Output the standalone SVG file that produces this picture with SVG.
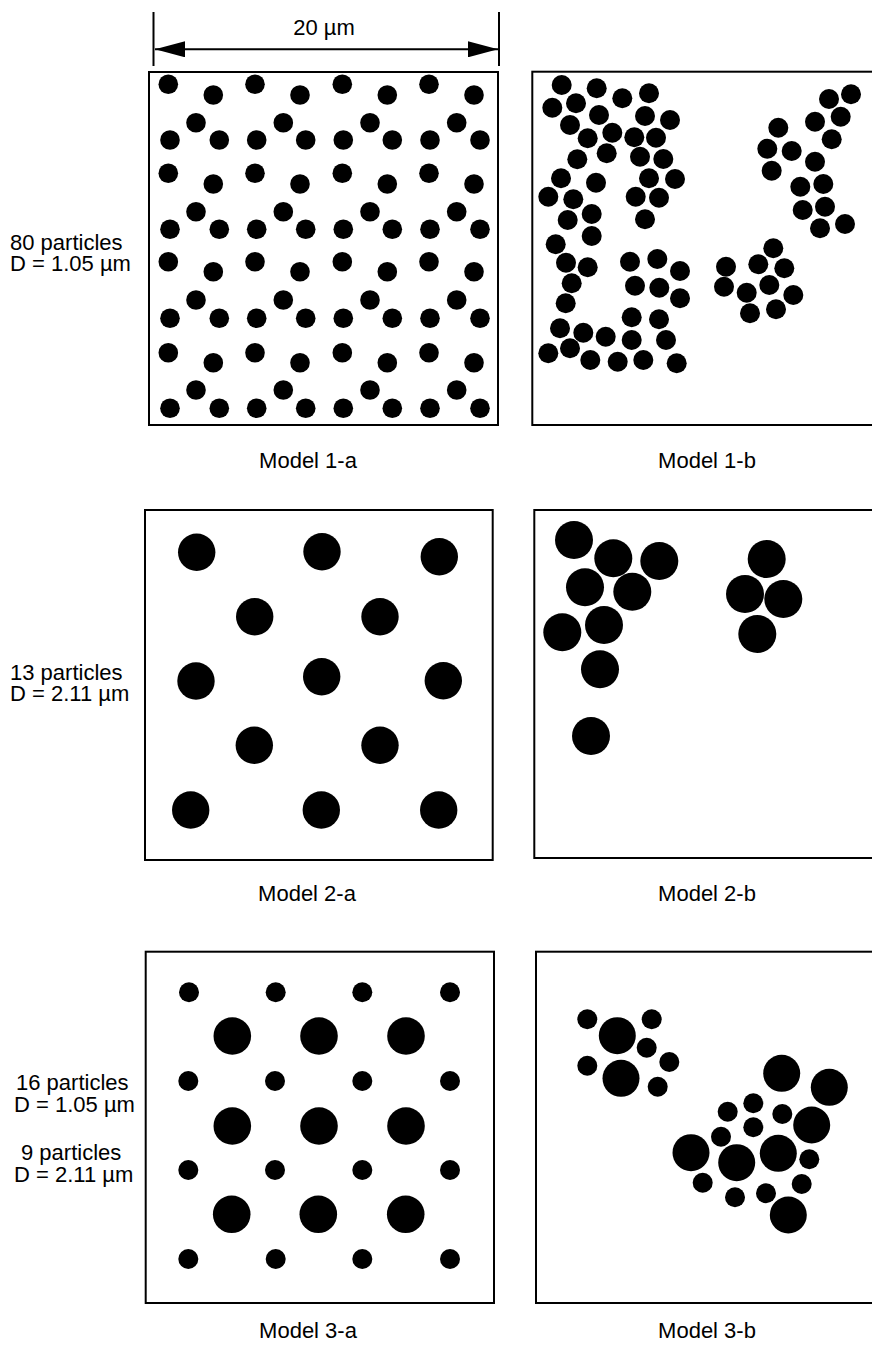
<svg xmlns="http://www.w3.org/2000/svg" width="872" height="1345" viewBox="0 0 872 1345">
<style>
.frame{fill:none;stroke:#000;stroke-width:2}
.d{fill:#000}
.dim{stroke:#000;stroke-width:2;fill:none}
text{font-family:"Liberation Sans",Arial,Helvetica,sans-serif;font-size:22px;fill:#000}
.c{text-anchor:middle}
</style>
<defs>
<marker id="ah" viewBox="0 0 30 16" refX="30" refY="8" markerWidth="30" markerHeight="16" markerUnits="userSpaceOnUse" orient="auto-start-reverse">
<path d="M0,0 L30,8 L0,16 Z" fill="#000"/>
</marker>
</defs>
<rect width="872" height="1345" fill="#fff"/>

<g id="connectors">
<g id="scale-bar">
<line class="dim" x1="153.5" y1="12" x2="153.5" y2="66"/>
<line class="dim" x1="499" y1="12" x2="499" y2="66"/>
<line class="dim" x1="155" y1="49.3" x2="498" y2="49.3" marker-start="url(#ah)" marker-end="url(#ah)"/>
<text class="c" x="324" y="35">20 µm</text>
</g>
</g>

<g id="label-row1">
<text x="10" y="250">80 particles</text>
<text x="10" y="271">D = 1.05 µm</text>
</g>
<g id="label-row2">
<text x="10" y="680">13 particles</text>
<text x="10" y="701">D = 2.11 µm</text>
</g>
<g id="label-row3">
<text x="16" y="1090">16 particles</text>
<text x="14" y="1112">D = 1.05 µm</text>
<text x="21" y="1160">9 particles</text>
<text x="14" y="1182">D = 2.11 µm</text>
</g>

<g id="model-1a">
<rect class="frame" x="149" y="72" width="349" height="353"/>
<g class="d">
<circle cx="168.3" cy="84.3" r="9.8"/><circle cx="255" cy="84.3" r="9.8"/><circle cx="342.3" cy="84.3" r="9.8"/><circle cx="429" cy="84.3" r="9.8"/>
<circle cx="213.3" cy="95" r="9.8"/><circle cx="300" cy="95" r="9.8"/><circle cx="387.3" cy="95" r="9.8"/><circle cx="474" cy="95" r="9.8"/>
<circle cx="196" cy="122.7" r="9.8"/><circle cx="283.3" cy="122.7" r="9.8"/><circle cx="370" cy="122.7" r="9.8"/><circle cx="456.7" cy="122.7" r="9.8"/>
<circle cx="170" cy="140" r="9.8"/><circle cx="219.3" cy="140" r="9.8"/><circle cx="256.7" cy="140" r="9.8"/><circle cx="305.7" cy="140" r="9.8"/><circle cx="343.3" cy="140" r="9.8"/><circle cx="392.3" cy="140" r="9.8"/><circle cx="430" cy="140" r="9.8"/><circle cx="480" cy="140" r="9.8"/>

<circle cx="168.3" cy="173.3" r="9.8"/><circle cx="255" cy="173.3" r="9.8"/><circle cx="342.3" cy="173.3" r="9.8"/><circle cx="429" cy="173.3" r="9.8"/>
<circle cx="213.3" cy="184" r="9.8"/><circle cx="300" cy="184" r="9.8"/><circle cx="387.3" cy="184" r="9.8"/><circle cx="474" cy="184" r="9.8"/>
<circle cx="196" cy="211.7" r="9.8"/><circle cx="283.3" cy="211.7" r="9.8"/><circle cx="370" cy="211.7" r="9.8"/><circle cx="456.7" cy="211.7" r="9.8"/>
<circle cx="170" cy="229.3" r="9.8"/><circle cx="219.3" cy="229.3" r="9.8"/><circle cx="256.7" cy="229.3" r="9.8"/><circle cx="305.7" cy="229.3" r="9.8"/><circle cx="343.3" cy="229.3" r="9.8"/><circle cx="392.3" cy="229.3" r="9.8"/><circle cx="430" cy="229.3" r="9.8"/><circle cx="480" cy="229.3" r="9.8"/>

<circle cx="168.3" cy="261.7" r="9.8"/><circle cx="255" cy="261.7" r="9.8"/><circle cx="342.3" cy="261.7" r="9.8"/><circle cx="429" cy="261.7" r="9.8"/>
<circle cx="213.3" cy="271.7" r="9.8"/><circle cx="300" cy="271.7" r="9.8"/><circle cx="387.3" cy="271.7" r="9.8"/><circle cx="474" cy="271.7" r="9.8"/>
<circle cx="196" cy="300" r="9.8"/><circle cx="283.3" cy="300" r="9.8"/><circle cx="370" cy="300" r="9.8"/><circle cx="456.7" cy="300" r="9.8"/>
<circle cx="170" cy="318.3" r="9.8"/><circle cx="219.3" cy="318.3" r="9.8"/><circle cx="256.7" cy="318.3" r="9.8"/><circle cx="305.7" cy="318.3" r="9.8"/><circle cx="343.3" cy="318.3" r="9.8"/><circle cx="392.3" cy="318.3" r="9.8"/><circle cx="430" cy="318.3" r="9.8"/><circle cx="480" cy="318.3" r="9.8"/>

<circle cx="168.3" cy="352.7" r="9.8"/><circle cx="255" cy="352.7" r="9.8"/><circle cx="342.3" cy="352.7" r="9.8"/><circle cx="429" cy="352.7" r="9.8"/>
<circle cx="213.3" cy="362.7" r="9.8"/><circle cx="300" cy="362.7" r="9.8"/><circle cx="387.3" cy="362.7" r="9.8"/><circle cx="474" cy="362.7" r="9.8"/>
<circle cx="196" cy="390" r="9.8"/><circle cx="283.3" cy="390" r="9.8"/><circle cx="370" cy="390" r="9.8"/><circle cx="456.7" cy="390" r="9.8"/>
<circle cx="170" cy="408.3" r="9.8"/><circle cx="219.3" cy="408.3" r="9.8"/><circle cx="256.7" cy="408.3" r="9.8"/><circle cx="305.7" cy="408.3" r="9.8"/><circle cx="343.3" cy="408.3" r="9.8"/><circle cx="392.3" cy="408.3" r="9.8"/><circle cx="430" cy="408.3" r="9.8"/><circle cx="480" cy="408.3" r="9.8"/>
</g>
<text class="c" x="308" y="468">Model 1-a</text>
</g>

<g id="model-1b">
<rect class="frame" x="532.3" y="71.7" width="360" height="353.3"/>
<g class="d">
<circle cx="561.7" cy="85" r="10"/><circle cx="596.7" cy="88.3" r="10"/><circle cx="622.3" cy="98.3" r="10"/><circle cx="649" cy="93.3" r="10"/>
<circle cx="552.3" cy="107.7" r="10"/><circle cx="576" cy="103.3" r="10"/><circle cx="599" cy="115" r="10"/><circle cx="645" cy="116" r="10"/><circle cx="670" cy="120" r="10"/>
<circle cx="570" cy="125" r="10"/><circle cx="587.7" cy="138.3" r="10"/><circle cx="612.3" cy="132.7" r="10"/><circle cx="634.3" cy="137.3" r="10"/><circle cx="656" cy="137.7" r="10"/>
<circle cx="577.3" cy="159.3" r="10"/><circle cx="606.7" cy="153.3" r="10"/><circle cx="640" cy="156.7" r="10"/><circle cx="663.3" cy="159" r="10"/>
<circle cx="561" cy="178.3" r="10"/><circle cx="596" cy="182.7" r="10"/><circle cx="649" cy="178.3" r="10"/><circle cx="675" cy="179" r="10"/>
<circle cx="548.3" cy="196.7" r="10"/><circle cx="573.3" cy="199.3" r="10"/><circle cx="635.7" cy="196.7" r="10"/><circle cx="659" cy="197.7" r="10"/>
<circle cx="567.7" cy="220" r="10"/><circle cx="591.7" cy="214" r="10"/><circle cx="645" cy="219.3" r="10"/><circle cx="591.7" cy="236" r="10"/>
<circle cx="555.7" cy="244.3" r="10"/><circle cx="566" cy="262.7" r="10"/><circle cx="587.7" cy="267.3" r="10"/><circle cx="571.7" cy="283.3" r="10"/><circle cx="565.7" cy="303.3" r="10"/>
<circle cx="630" cy="261.7" r="10"/><circle cx="657.3" cy="259" r="10"/><circle cx="680" cy="271" r="10"/><circle cx="635" cy="285.7" r="10"/><circle cx="659.3" cy="287.7" r="10"/><circle cx="680" cy="298.3" r="10"/>
<circle cx="560" cy="328.3" r="10"/><circle cx="583.3" cy="332.7" r="10"/><circle cx="605.7" cy="336.7" r="10"/><circle cx="631.7" cy="317.3" r="10"/><circle cx="659" cy="319.3" r="10"/>
<circle cx="548.3" cy="353.3" r="10"/><circle cx="570" cy="348.3" r="10"/><circle cx="590.3" cy="360" r="10"/><circle cx="617.7" cy="361.7" r="10"/><circle cx="643.3" cy="360" r="10"/><circle cx="631.7" cy="340" r="10"/><circle cx="666" cy="340" r="10"/><circle cx="676.7" cy="363.3" r="10"/>
<circle cx="829" cy="99" r="10"/><circle cx="851" cy="94.3" r="10"/><circle cx="815" cy="121.7" r="10"/><circle cx="840.7" cy="116.7" r="10"/><circle cx="778.3" cy="127.7" r="10"/><circle cx="831.7" cy="139.3" r="10"/>
<circle cx="767.3" cy="148.7" r="10"/><circle cx="791.7" cy="151" r="10"/><circle cx="815" cy="161.7" r="10"/><circle cx="771.7" cy="170.7" r="10"/><circle cx="800.3" cy="186.7" r="10"/><circle cx="823.3" cy="184" r="10"/>
<circle cx="802.7" cy="210" r="10"/><circle cx="825" cy="206.7" r="10"/><circle cx="820" cy="228.3" r="10"/><circle cx="845" cy="224" r="10"/>
<circle cx="773.3" cy="248.3" r="10"/><circle cx="726" cy="266.7" r="10"/><circle cx="758.3" cy="264.3" r="10"/><circle cx="784.3" cy="268.3" r="10"/><circle cx="724" cy="286.7" r="10"/>
<circle cx="769.3" cy="285" r="10"/><circle cx="746.7" cy="292.7" r="10"/><circle cx="793.3" cy="295" r="10"/><circle cx="750" cy="313.3" r="10"/><circle cx="776" cy="309.3" r="10"/>
</g>
<text class="c" x="707" y="468">Model 1-b</text>
</g>

<g id="model-2a">
<rect class="frame" x="145" y="510" width="347.7" height="350"/>
<g class="d">
<circle cx="196.7" cy="552.3" r="18.7"/><circle cx="322" cy="551.7" r="18.7"/><circle cx="439.3" cy="556.7" r="18.7"/>
<circle cx="254.7" cy="616.7" r="18.7"/><circle cx="380" cy="616.7" r="18.7"/>
<circle cx="196" cy="681" r="18.7"/><circle cx="321.7" cy="676.7" r="18.7"/><circle cx="443.3" cy="680.7" r="18.7"/>
<circle cx="254.3" cy="745.3" r="18.7"/><circle cx="380" cy="745.3" r="18.7"/>
<circle cx="190.7" cy="810" r="18.7"/><circle cx="321.3" cy="810" r="18.7"/><circle cx="438.7" cy="810" r="18.7"/>
</g>
<text class="c" x="307" y="901">Model 2-a</text>
</g>

<g id="model-2b">
<rect class="frame" x="534.3" y="510" width="360" height="348"/>
<g class="d">
<circle cx="574" cy="540" r="19"/><circle cx="613.3" cy="558.3" r="19"/><circle cx="659.3" cy="561" r="19"/>
<circle cx="585" cy="587.3" r="19"/><circle cx="632.3" cy="591.7" r="19"/><circle cx="562.3" cy="632.3" r="19"/>
<circle cx="604" cy="625" r="19"/><circle cx="600" cy="669.3" r="19"/><circle cx="591" cy="736" r="19"/>
<circle cx="766.7" cy="559" r="19"/><circle cx="745" cy="594" r="19"/><circle cx="783.3" cy="599" r="19"/><circle cx="757.3" cy="634" r="19"/>
</g>
<text class="c" x="707" y="901">Model 2-b</text>
</g>

<g id="model-3a">
<rect class="frame" x="145.7" y="951.7" width="348.3" height="351.3"/>
<g class="d">
<circle cx="189" cy="992.3" r="10"/><circle cx="275.7" cy="992.3" r="10"/><circle cx="362.3" cy="992.3" r="10"/><circle cx="450" cy="992.3" r="10"/>
<circle cx="188.3" cy="1081" r="10"/><circle cx="275" cy="1081" r="10"/><circle cx="362.3" cy="1081" r="10"/><circle cx="450" cy="1081" r="10"/>
<circle cx="188.3" cy="1170" r="10"/><circle cx="275" cy="1170" r="10"/><circle cx="362.3" cy="1170" r="10"/><circle cx="450" cy="1170" r="10"/>
<circle cx="188.3" cy="1259" r="10"/><circle cx="275.7" cy="1259" r="10"/><circle cx="362.3" cy="1259" r="10"/><circle cx="450" cy="1259" r="10"/>
<circle cx="232.3" cy="1036" r="18.8"/><circle cx="319" cy="1036" r="18.8"/><circle cx="406" cy="1036" r="18.8"/>
<circle cx="232.3" cy="1126" r="18.8"/><circle cx="319" cy="1126" r="18.8"/><circle cx="406" cy="1126" r="18.8"/>
<circle cx="231.7" cy="1214.3" r="18.8"/><circle cx="318.3" cy="1214.3" r="18.8"/><circle cx="405.7" cy="1214.3" r="18.8"/>
</g>
<text class="c" x="308" y="1338">Model 3-a</text>
</g>

<g id="model-3b">
<rect class="frame" x="536" y="951.7" width="360" height="351.3"/>
<g class="d">
<circle cx="587.3" cy="1019.3" r="10"/><circle cx="651.7" cy="1019.3" r="10"/><circle cx="646.7" cy="1047.7" r="10"/><circle cx="669.3" cy="1062" r="10"/><circle cx="587.3" cy="1065.7" r="10"/><circle cx="657.7" cy="1086.7" r="10"/>
<circle cx="617.3" cy="1035.7" r="18.5"/><circle cx="621" cy="1078.3" r="18.5"/>
<circle cx="781.7" cy="1073.3" r="18.5"/><circle cx="829.3" cy="1087.3" r="18.5"/><circle cx="811.7" cy="1125" r="18.5"/><circle cx="691" cy="1152.7" r="18.5"/><circle cx="736.7" cy="1162.7" r="18.5"/><circle cx="778.3" cy="1153.3" r="18.5"/><circle cx="788.3" cy="1215" r="18.5"/>
<circle cx="727.7" cy="1111.7" r="10"/><circle cx="753.3" cy="1103.3" r="10"/><circle cx="782.3" cy="1114" r="10"/><circle cx="753.3" cy="1127.3" r="10"/><circle cx="721" cy="1136.7" r="10"/>
<circle cx="809.3" cy="1159.3" r="10"/><circle cx="702.7" cy="1182.7" r="10"/><circle cx="735" cy="1197.3" r="10"/><circle cx="766" cy="1193.3" r="10"/><circle cx="801.7" cy="1184" r="10"/>
</g>
<text class="c" x="707" y="1338">Model 3-b</text>
</g>
</svg>
